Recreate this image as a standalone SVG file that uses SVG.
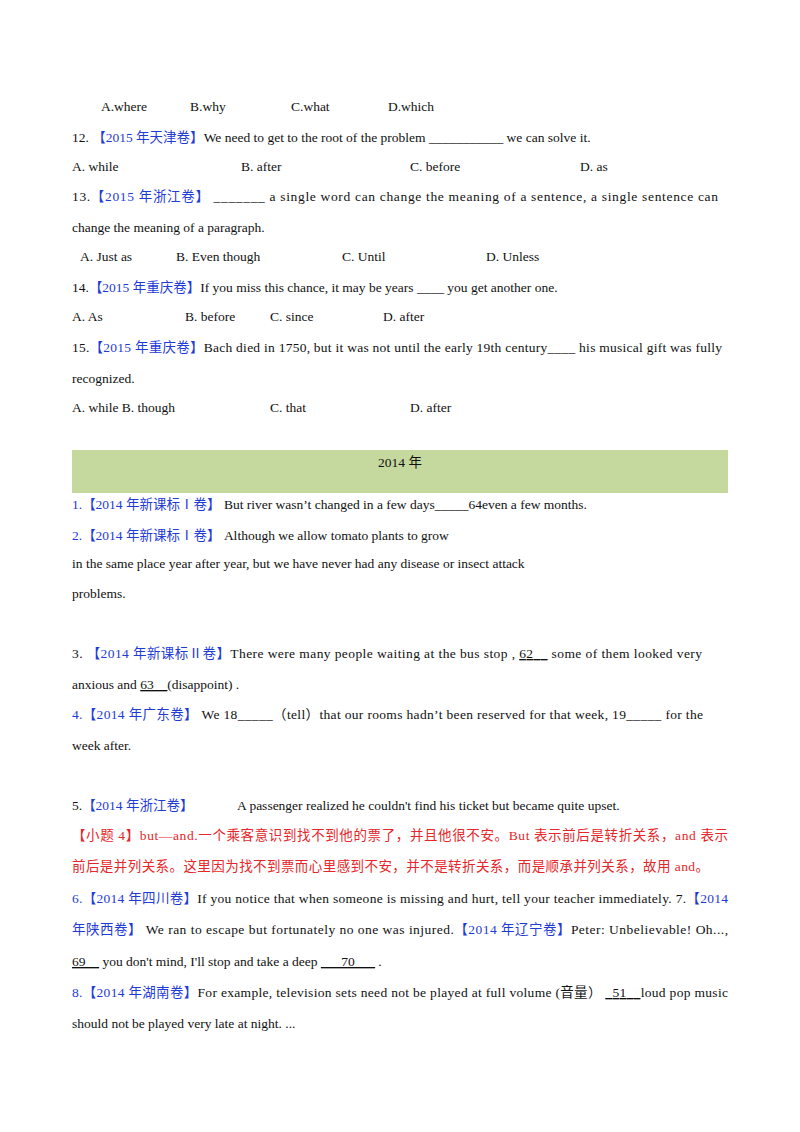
<svg xmlns="http://www.w3.org/2000/svg" width="800" height="1132" viewBox="0 0 800 1132">
<style>
text{font-family:"Liberation Serif","Noto Sans CJK SC",serif;font-size:13.5px;fill:#111}
.b{fill:#1f3bd6}.r{fill:#e6262a}
</style>
<rect width="800" height="1132" fill="#fff"/>
<rect x="72" y="450" width="656" height="43" fill="#c5d89e"/>
<text x="101" y="111">A.where</text><text x="190" y="111">B.why</text><text x="291" y="111">C.what</text><text x="388" y="111">D.which</text>
<text x="72" y="142">12.  <tspan class="b">【2015 年天津卷】</tspan>We need to get to the root of the problem ___________ we can solve it.</text>
<text x="72" y="171">A. while</text><text x="241" y="171">B. after</text><text x="410" y="171">C. before</text><text x="580" y="171">D. as</text>
<text x="72" y="201" textLength="646" lengthAdjust="spacing">13.<tspan class="b">【2015 年浙江卷】</tspan> _______  a single word can change the meaning of a sentence, a single sentence can</text>
<text x="72" y="232">change the meaning of a paragraph.</text>
<text x="80" y="261">A. Just as</text><text x="176" y="261">B. Even though</text><text x="342" y="261">C. Until</text><text x="486" y="261">D. Unless</text>
<text x="72" y="292">14.<tspan class="b">【2015 年重庆卷】</tspan>If you miss this chance, it may be years ____ you get another one.</text>
<text x="72" y="321">A.   As</text><text x="185" y="321">B. before</text><text x="270" y="321">C. since</text><text x="383" y="321">D. after</text>
<text x="72" y="352" textLength="650" lengthAdjust="spacing">15.<tspan class="b">【2015 年重庆卷】</tspan>Bach died in 1750, but it was not until the early 19th century____ his musical gift was fully</text>
<text x="72" y="383">recognized.</text>
<text x="72" y="412">A. while  B. though</text><text x="270" y="412">C. that</text><text x="410" y="412">D. after</text>
<text x="400" y="467" text-anchor="middle">2014 年</text>
<text x="72" y="509"><tspan class="b">1.【2014 年新课标Ⅰ卷】</tspan> But river wasn’t changed in a few days_____64even a few months.</text>
<text x="72" y="540"><tspan class="b">2.【2014 年新课标Ⅰ卷】</tspan> Although we allow tomato plants to grow</text>
<text x="72" y="568">in the same place year after year, but we have never had any disease or insect attack</text>
<text x="72" y="598">problems.</text>
<text x="72" y="658" textLength="630" lengthAdjust="spacing">3.  <tspan class="b">【2014 年新课标Ⅱ卷】</tspan>There were many people waiting at the bus stop , <tspan text-decoration="underline"> 62__</tspan>  some of them looked very</text>
<text x="72" y="689">anxious and   <tspan text-decoration="underline"> 63__</tspan>(disappoint) .</text>
<text x="72" y="719" textLength="631" lengthAdjust="spacing"><tspan class="b">4.【2014 年广东卷】</tspan> We 18_____（tell）that our rooms hadn’t been reserved for that week, 19_____ for the</text>
<text x="72" y="750">week after.</text>
<text x="72" y="810">5.<tspan class="b">【2014 年浙江卷】</tspan></text><text x="237" y="810">A passenger realized he couldn't find his ticket but became quite upset.</text>
<text x="72" y="840" class="r" textLength="656" lengthAdjust="spacing">【小题 4】but—and.一个乘客意识到找不到他的票了，并且他很不安。But 表示前后是转折关系，and 表示</text>
<text x="72" y="871" class="r" textLength="637" lengthAdjust="spacing">前后是并列关系。这里因为找不到票而心里感到不安，并不是转折关系，而是顺承并列关系，故用 and。</text>
<text x="72" y="903" textLength="656" lengthAdjust="spacing"><tspan class="b">6.【2014 年四川卷】</tspan>If you notice that when someone is missing and hurt, tell your teacher immediately. 7.<tspan class="b">【2014</tspan></text>
<text x="72" y="934" textLength="656" lengthAdjust="spacing"><tspan class="b">年陕西卷】</tspan> We ran to escape but fortunately no one was injured.<tspan class="b">【2014 年辽宁卷】</tspan>Peter:   Unbelievable!  Oh...,</text>
<text x="72" y="966"><tspan text-decoration="underline">69__</tspan>  you don't mind, I'll stop and take a deep  <tspan text-decoration="underline">___70___</tspan>  .</text>
<text x="72" y="997" textLength="656" lengthAdjust="spacing"><tspan class="b">8.【2014 年湖南卷】</tspan>For example, television sets need not be played at full volume (音量） <tspan text-decoration="underline">_51__</tspan>loud pop music</text>
<text x="72" y="1028">should not be played very late at night. ...</text>
</svg>
